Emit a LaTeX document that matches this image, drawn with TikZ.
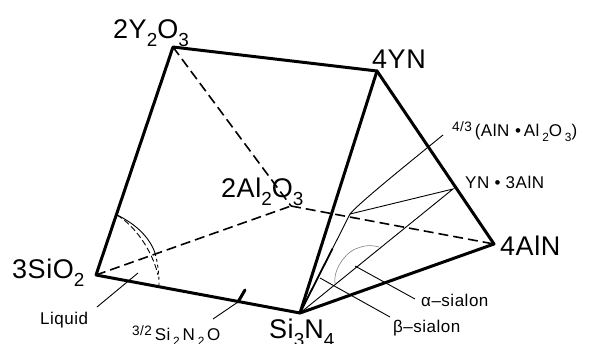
\documentclass[tikz,border=0pt]{standalone}
\usepackage{fontspec}
\setmainfont{Liberation Sans}
\usepackage{amsmath}
\usetikzlibrary{positioning, calc}
\newcommand{\lowidx}[1]{\raisebox{-.3em}{\scalebox{.7}{#1}}}
\newcommand{\topfrac}[1]{\raisebox{.24em}{\scalebox{.8}{#1}}}
\begin{document}
\begin{tikzpicture}[x=1pt, y=-1pt,
    edge/.style={line width=3pt, line cap=round, line join=round},
    hidden/.style={line width=1.6pt, dash pattern=on 10pt off 5pt},
    thin line/.style={line width=.9pt},
    big/.style={font=\fontsize{27}{29}\selectfont\addfontfeature{LetterSpace=2}, inner sep=0pt, anchor=base west},
    small/.style={font=\fontsize{17}{19}\selectfont\addfontfeature{LetterSpace=3}, inner sep=0pt, anchor=base west}]
    \useasboundingbox (0,0) rectangle (597,343);

    % Vertici
    \coordinate (sio) at (96,275);
    \coordinate (sin) at (300,313);
    \coordinate (aln) at (494,244);
    \coordinate (yn) at (377,71);
    \coordinate (yo) at (173,47);
    \coordinate (alo) at (291,206);

    % Punti interni
    \coordinate (ona) at (350,214);
    \coordinate (yna) at (453,189);
    \coordinate (onb) at (443,135);

    % Spigoli
    \draw[edge] (sio) -- (yo) -- (yn) -- (aln) -- (sin) -- (sio);
    \draw[edge] (yn) -- (sin);
    \draw[hidden] (yo) -- (alo);
    \draw[hidden] (sio) -- (alo);
    \draw[hidden] (alo) -- (aln);

    % Linee sottili
    \draw[thin line] (sin) -- (yna) -- (ona) -- (sin);
    \draw[thin line] (ona) .. controls (358,204) and (400,170) .. (onb);
    \draw[line width=1.8pt] (sin) -- ($(sin)!.65!(ona)$);

    % Liquid
    \coordinate (lqa) at (117,215);
    \coordinate (lqb) at (159,285);
    \coordinate (lqc) at (155,253);
    \draw[thin line] (lqa) .. controls (136,224) and (150,238) .. (lqc);
    \draw[thin line, dashed] (lqc) .. controls (158,264) and (159,274) .. (lqb);
    \draw[thin line, dash pattern=on 6pt off 3pt] (lqa) .. controls (135,226) and (152,250) .. (158,275);

    % Sialon
    \draw[gray, line width=.6pt] (335,283) .. controls (333,268) and (348,250) .. (358,248) .. controls (364,245) and (373,245) .. (379,247);

    % Etichette
    \node[big] (lyo) at (113,38) {2Y\lowidx{2}O\lowidx{3}};
    \node[big] (lyn) at (372,68) {4YN};
    \node[big] (lalo) at (221,197) {2Al\lowidx{2}O\lowidx{3}};
    \node[big] (lsio) at (12,278) {3SiO\lowidx{2}};
    \node[big] (laln) at (500,255) {4AlN};
    \node[big] (lsin) at (269,338) {Si\lowidx{3}N\lowidx{4}};
    \node[small] (lona) at (452,136) {\topfrac{4/3}\,(AlN\,\,•\,Al\,\lowidx{2}O\,\lowidx{3})};
    \node[small] (lyna) at (465,188) {YN • 3AlN};
    \node[small] (lalpha) at (421,306) {α–sialon};
    \node[small] (lbeta) at (393,332) {β–sialon};
    \node[small] (lliq) at (40,324) {Liquid};
    \node[small] (lsno) at (132,340) {\topfrac{3/2}\,Si\,\lowidx{2}\,N\,\lowidx{2}\,O};

    % Richiami
    \coordinate (lalphaend) at (415,299);
    \coordinate (lbetaend) at (390,317);
    \draw[thin line] (lalphaend) -- (355,266);
    \draw[thin line] (lbetaend) -- (320,278);
    \draw[thin line] (97,307) -- (138,273);
    \draw[thin line] (213,319) -- (238,302);
    \draw[line width=3pt, line cap=round] (238,302) -- (245,290);
\end{tikzpicture}
\end{document}
